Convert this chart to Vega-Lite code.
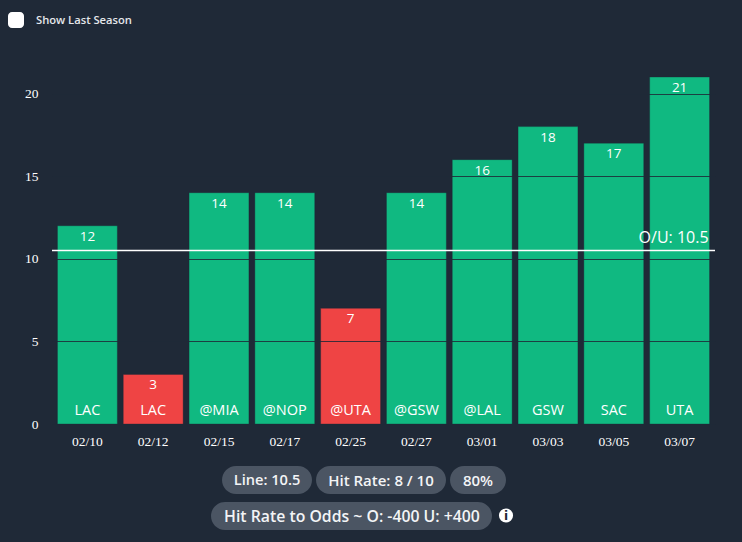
{"$schema":"https://vega.github.io/schema/vega-lite/v6.json","width":663,"height":380,"autosize":{"type":"none"},"padding":{"left":52,"top":44,"right":27,"bottom":118},"background":"#1f2937","config":{"view":{"stroke":null}},
"resolve":{"scale":{"x":"independent","y":"independent"}},
"layer":[
{"data":{"values":[
{"date":"02/10","opp":"LAC","value":12,"hit":"over"},{"date":"02/12","opp":"LAC","value":3,"hit":"under"},{"date":"02/15","opp":"@MIA","value":14,"hit":"over"},{"date":"02/17","opp":"@NOP","value":14,"hit":"over"},{"date":"02/25","opp":"@UTA","value":7,"hit":"under"},{"date":"02/27","opp":"@GSW","value":14,"hit":"over"},{"date":"03/01","opp":"@LAL","value":16,"hit":"over"},{"date":"03/03","opp":"GSW","value":18,"hit":"over"},{"date":"03/05","opp":"SAC","value":17,"hit":"over"},{"date":"03/07","opp":"UTA","value":21,"hit":"over"}]},
"layer":[
{"mark":{"type":"bar","stroke":"#1f2937","strokeOpacity":0.35,"strokeWidth":1},"encoding":{"x":{"field":"date","type":"nominal","sort":null,"scale":{"paddingInner":0.09,"paddingOuter":0.083},"axis":{"title":null,"labelAngle":0,"domain":false,"ticks":false,"labelPadding":10,"labelColor":"#ffffff","labelFont":"Liberation Serif","labelFontSize":13.5}},"y":{"field":"value","type":"quantitative","scale":{"domain":[0,23],"nice":false},"axis":{"title":null,"values":[0,5,10,15,20],"domain":false,"ticks":false,"labelPadding":14,"labelColor":"#ffffff","labelFont":"Liberation Serif","labelFontSize":13.5,"grid":true,"gridColor":"#1f2937","gridWidth":1.2,"gridOpacity":0.85,"zindex":1}},"color":{"field":"hit","type":"nominal","scale":{"domain":["over","under"],"range":["#10b981","#ef4444"]},"legend":null}}},
{"mark":{"type":"text","color":"#ffffff","font":"Open Sans","fontSize":13.5,"baseline":"middle","dy":11},"encoding":{"x":{"field":"date","type":"nominal","sort":null},"y":{"field":"value","type":"quantitative"},"text":{"field":"value","type":"quantitative"}}},
{"mark":{"type":"text","color":"#ffffff","font":"Open Sans","fontSize":14.5,"baseline":"middle","dy":-13},"encoding":{"x":{"field":"date","type":"nominal","sort":null},"y":{"datum":0,"type":"quantitative"},"text":{"field":"opp","type":"nominal"}}},
{"data":{"values":[{"line":10.5}]},"mark":{"type":"rule","color":"#ffffff","strokeWidth":1.6},"encoding":{"y":{"field":"line","type":"quantitative"}}},
{"data":{"values":[{"date":"03/07","line":10.5,"label":"O/U: 10.5"}]},"mark":{"type":"text","color":"#ffffff","font":"Open Sans","fontSize":16,"align":"right","baseline":"middle","dx":29,"dy":-13},"encoding":{"x":{"field":"date","type":"nominal","sort":null},"y":{"field":"line","type":"quantitative"},"text":{"field":"label","type":"nominal"}}}
]},
{"layer":[
{"data":{"values":[{"control":"checkbox"}]},"mark":{"type":"bar","color":"#ffffff","cornerRadius":4},"encoding":{"x":{"datum":8,"type":"quantitative","scale":{"domain":[52,715],"zero":false,"nice":false},"axis":null},"x2":{"datum":24},"y":{"datum":12,"type":"quantitative","scale":{"domain":[44,424],"zero":false,"nice":false,"reverse":true},"axis":null},"y2":{"datum":28}}},
{"data":{"values":[{"label":"Show Last Season"}]},"mark":{"type":"text","color":"#e5e7eb","font":"Open Sans","fontWeight":600,"fontSize":11.2,"align":"left","baseline":"middle"},"encoding":{"x":{"datum":36,"type":"quantitative","axis":null},"y":{"datum":21,"type":"quantitative","axis":null},"text":{"field":"label"}}},
{"data":{"values":[{"label":"Line: 10.5"}]},"mark":{"type":"bar","color":"#4b5563","cornerRadius":14},"encoding":{"x":{"datum":222,"type":"quantitative","axis":null},"x2":{"datum":312},"y":{"datum":466,"type":"quantitative","axis":null},"y2":{"datum":494}}},
{"data":{"values":[{"label":"Hit Rate: 8 / 10"}]},"mark":{"type":"bar","color":"#4b5563","cornerRadius":14},"encoding":{"x":{"datum":316,"type":"quantitative","axis":null},"x2":{"datum":446},"y":{"datum":466,"type":"quantitative","axis":null},"y2":{"datum":494}}},
{"data":{"values":[{"label":"80%"}]},"mark":{"type":"bar","color":"#4b5563","cornerRadius":14},"encoding":{"x":{"datum":450,"type":"quantitative","axis":null},"x2":{"datum":506},"y":{"datum":466,"type":"quantitative","axis":null},"y2":{"datum":494}}},
{"data":{"values":[{"label":"Hit Rate to Odds"}]},"mark":{"type":"bar","color":"#4b5563","cornerRadius":14},"encoding":{"x":{"datum":211,"type":"quantitative","axis":null},"x2":{"datum":492},"y":{"datum":502,"type":"quantitative","axis":null},"y2":{"datum":530}}},
{"data":{"values":[{"label":"Line: 10.5"}]},"mark":{"type":"text","color":"#f3f4f6","font":"Open Sans","fontWeight":600,"fontSize":14.6,"baseline":"middle"},"encoding":{"x":{"datum":267,"type":"quantitative","axis":null},"y":{"datum":480.5,"type":"quantitative","axis":null},"text":{"field":"label"}}},
{"data":{"values":[{"label":"Hit Rate: 8 / 10"}]},"mark":{"type":"text","color":"#f3f4f6","font":"Open Sans","fontWeight":600,"fontSize":15,"baseline":"middle"},"encoding":{"x":{"datum":381,"type":"quantitative","axis":null},"y":{"datum":480.5,"type":"quantitative","axis":null},"text":{"field":"label"}}},
{"data":{"values":[{"label":"80%"}]},"mark":{"type":"text","color":"#f3f4f6","font":"Open Sans","fontWeight":600,"fontSize":15,"baseline":"middle"},"encoding":{"x":{"datum":478,"type":"quantitative","axis":null},"y":{"datum":480.5,"type":"quantitative","axis":null},"text":{"field":"label"}}},
{"data":{"values":[{"label":"Hit Rate to Odds ~ O: -400 U: +400"}]},"mark":{"type":"text","color":"#f3f4f6","font":"Open Sans","fontWeight":600,"fontSize":15.8,"baseline":"middle"},"encoding":{"x":{"datum":352,"type":"quantitative","axis":null},"y":{"datum":516.5,"type":"quantitative","axis":null},"text":{"field":"label"}}},
{"data":{"values":[{"icon":"info"}]},"mark":{"type":"point","filled":true,"shape":"circle","size":200,"color":"#ffffff","opacity":1},"encoding":{"x":{"datum":506,"type":"quantitative","axis":null},"y":{"datum":515.5,"type":"quantitative","axis":null}}},
{"data":{"values":[{"label":"i"}]},"mark":{"type":"text","color":"#1f2937","font":"DejaVu Sans","fontWeight":700,"fontSize":12,"baseline":"middle"},"encoding":{"x":{"datum":506,"type":"quantitative","axis":null},"y":{"datum":515.5,"type":"quantitative","axis":null},"text":{"field":"label"}}}
]}
]}
